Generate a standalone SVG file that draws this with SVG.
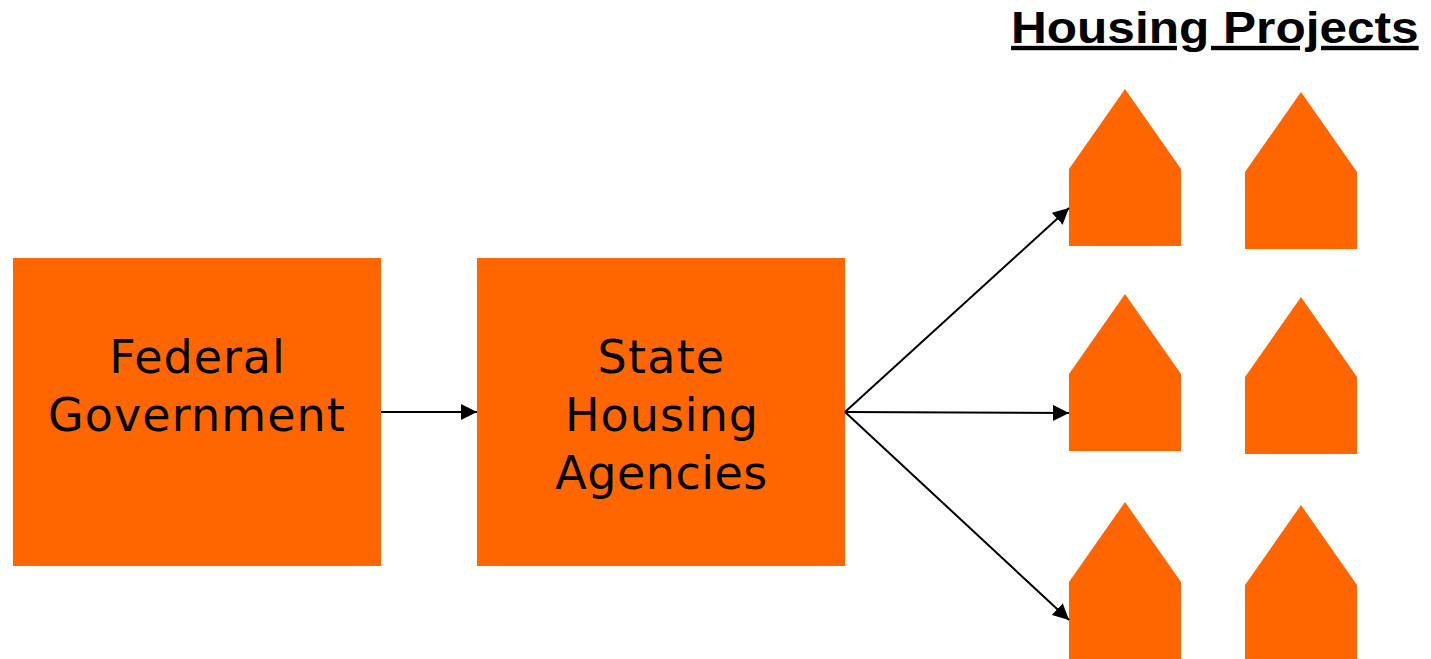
<svg xmlns="http://www.w3.org/2000/svg" width="1431" height="659" viewBox="0 0 1431 659">
<style>
.n{fill:#ff6600}
.t{font-family:"DejaVu Sans","Liberation Sans",sans-serif;font-size:46px;fill:#000;text-anchor:middle}
.h{font-family:"Liberation Sans",Arial,sans-serif;font-size:44px;font-weight:bold;fill:#000;text-decoration:underline;text-decoration-thickness:5px;text-underline-offset:3px}
.c{stroke:#000;stroke-width:2;fill:none;marker-end:url(#a)}
</style>
<defs>
<marker id="a" markerUnits="userSpaceOnUse" markerWidth="16" markerHeight="16" refX="16" refY="8" orient="auto" viewBox="0 0 16 16"><path d="M0 0L16 8L0 16Z" fill="#000"/></marker>
</defs>
<rect width="1431" height="659" fill="#fff"/>
<g id="federal-government"><rect class="n" x="13" y="258" width="368" height="308"/>
<text class="t" x="197.5" y="373" letter-spacing="1">Federal</text><text class="t" x="197" y="431" letter-spacing="1.1">Government</text></g>
<g id="state-housing-agencies"><rect class="n" x="477" y="258" width="368" height="308"/>
<text class="t" x="661.5" y="373" letter-spacing="1.2">State</text><text class="t" x="662" y="431" letter-spacing="1">Housing</text><text class="t" x="661.5" y="489" letter-spacing="0.5">Agencies</text></g>
<g id="housing-projects-title"><text class="h" transform="translate(1011 43) scale(1.127 1)">Housing Projects</text></g>
<g id="house-1"><path class="n" d="M1125 89L1181 169V246H1069V169Z"/></g>
<g id="house-2"><path class="n" d="M1301 92L1357 172H1245Z" transform="translate(0 -0.1)"/><rect class="n" x="1245" y="171.9" width="112" height="77.1"/></g>
<g id="house-3"><path class="n" d="M1125 294L1181 374V451H1069V374Z"/></g>
<g id="house-4"><path class="n" d="M1301 297L1357 377V454H1245V377Z"/></g>
<g id="house-5"><path class="n" d="M1125 502L1181 582V659H1069V582Z"/></g>
<g id="house-6"><path class="n" d="M1301 505L1357 585V662H1245V585Z"/></g>
<g id="connectors">
<line class="c" x1="381" y1="412" x2="477" y2="412"/>
<line class="c" x1="845" y1="412" x2="1069" y2="208"/>
<line class="c" x1="845" y1="412" x2="1069" y2="413"/>
<line class="c" x1="845" y1="412" x2="1069" y2="620"/>
</g>
</svg>
